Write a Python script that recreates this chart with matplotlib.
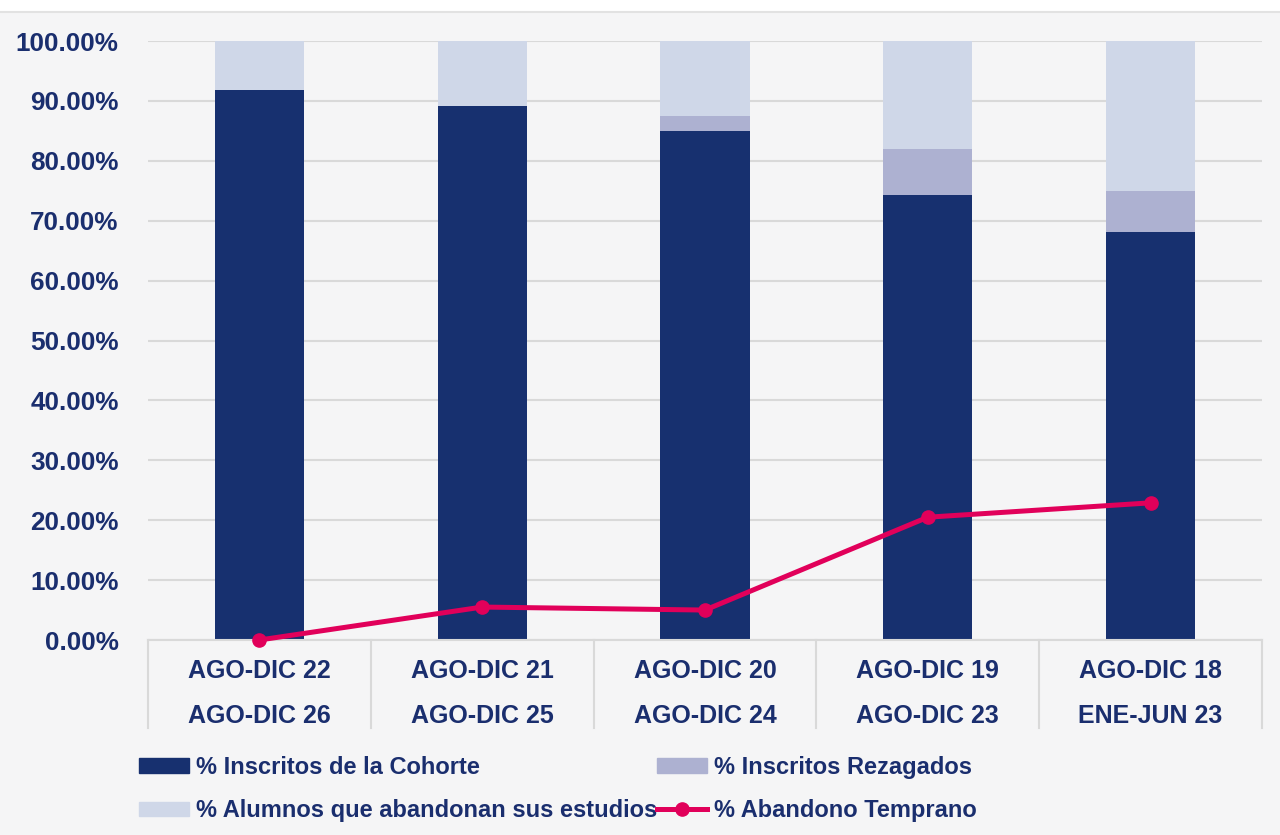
import numpy as np
import matplotlib
matplotlib.use("Agg")
import matplotlib.pyplot as plt
from matplotlib.patches import Patch, Rectangle
from matplotlib.lines import Line2D

# data
cohort_top = ["AGO-DIC 22", "AGO-DIC 21", "AGO-DIC 20", "AGO-DIC 19", "AGO-DIC 18"]
cohort_bottom = ["AGO-DIC 26", "AGO-DIC 25", "AGO-DIC 24", "AGO-DIC 23", "ENE-JUN 23"]
inscritos_cohorte = [91.8, 89.1, 85.0, 74.3, 68.1]
inscritos_rezagados = [0.0, 0.0, 2.5, 7.7, 6.9]
abandonan = [8.2, 10.9, 12.5, 18.0, 25.0]
abandono_temprano = [0.0, 5.5, 5.0, 20.5, 22.9]
yticks = [0, 10, 20, 30, 40, 50, 60, 70, 80, 90, 100]

navy = "#17306f"
lav = "#adb1d1"
pale = "#cfd7e8"
pink = "#e1005a"
txt = "#1a2e6e"

plt.rcParams["font.family"] = ["Liberation Sans", "DejaVu Sans"]

fig = plt.figure(figsize=(12.8, 8.35), dpi=100, facecolor="#f5f5f6")
# white strip along the top edge
fig.patches.append(Rectangle((0, 1 - 12 / 835), 1, 12 / 835, transform=fig.transFigure,
                             facecolor="white", edgecolor="none"))
fig.lines.append(Line2D([0, 1], [1 - 12 / 835] * 2, transform=fig.transFigure,
                        color="#e2e2e2", lw=1.5))

ax = fig.add_axes([148 / 1280, 1 - 640 / 835, (1262 - 148) / 1280, 599 / 835])
ax.set_facecolor("none")

x = np.arange(len(cohort_top))
w = 0.4
b1 = np.array(inscritos_cohorte)
b2 = b1 + np.array(inscritos_rezagados)
ax.bar(x, inscritos_cohorte, w, color=navy, zorder=2)
ax.bar(x, inscritos_rezagados, w, bottom=b1, color=lav, zorder=2)
ax.bar(x, abandonan, w, bottom=b2, color=pale, zorder=2)
ax.plot(x, abandono_temprano, color=pink, lw=3.6, marker="o", ms=9.5, zorder=3,
        clip_on=False)

ax.set_xlim(-0.5, len(x) - 0.5)
ax.set_ylim(0, 100)
ax.set_yticks(yticks)
ax.set_yticklabels([f"{v:.2f}%" for v in yticks], fontsize=18.8, fontweight="bold",
                   color=txt)
ax.tick_params(axis="y", length=0, pad=21)
ax.set_xticks([])
ax.grid(axis="y", color="#d9d9d9", lw=1.5, zorder=0)
for s in ["top", "right", "left"]:
    ax.spines[s].set_visible(False)
ax.spines["bottom"].set_color("#d9d9d9")
ax.spines["bottom"].set_linewidth(1.5)

# two-level category labels with separators
for i in range(len(x) + 1):
    ax.plot([i - 0.5, i - 0.5], [0, -88 / 5.99], color="#d9d9d9", lw=1.5,
            clip_on=False)
for i in x:
    ax.text(i, -31 / 5.99, cohort_top[i], ha="center", va="center", fontsize=18,
            fontweight="bold", color=txt)
    ax.text(i, -76 / 5.99, cohort_bottom[i], ha="center", va="center", fontsize=18,
            fontweight="bold", color=txt)

handles = [
    Patch(color=navy, label="% Inscritos de la Cohorte"),
    Patch(color=pale, label="% Alumnos que abandonan sus estudios"),
    Patch(color=lav, label="% Inscritos Rezagados"),
    Line2D([], [], color=pink, lw=3.6, marker="o", ms=9.5, label="% Abandono Temprano"),
]
leg = fig.legend(handles=handles, ncol=2, loc="upper left",
                 bbox_to_anchor=(118 / 1280, 1 - 735 / 835), frameon=False,
                 prop={"size": 17, "weight": "bold"}, handlelength=2.1,
                 handleheight=0.6, handletextpad=0.3, columnspacing=0.0,
                 labelspacing=0.85)
for t in leg.get_texts():
    t.set_color(txt)

fig.savefig("out.png", dpi=100, facecolor=fig.get_facecolor())
